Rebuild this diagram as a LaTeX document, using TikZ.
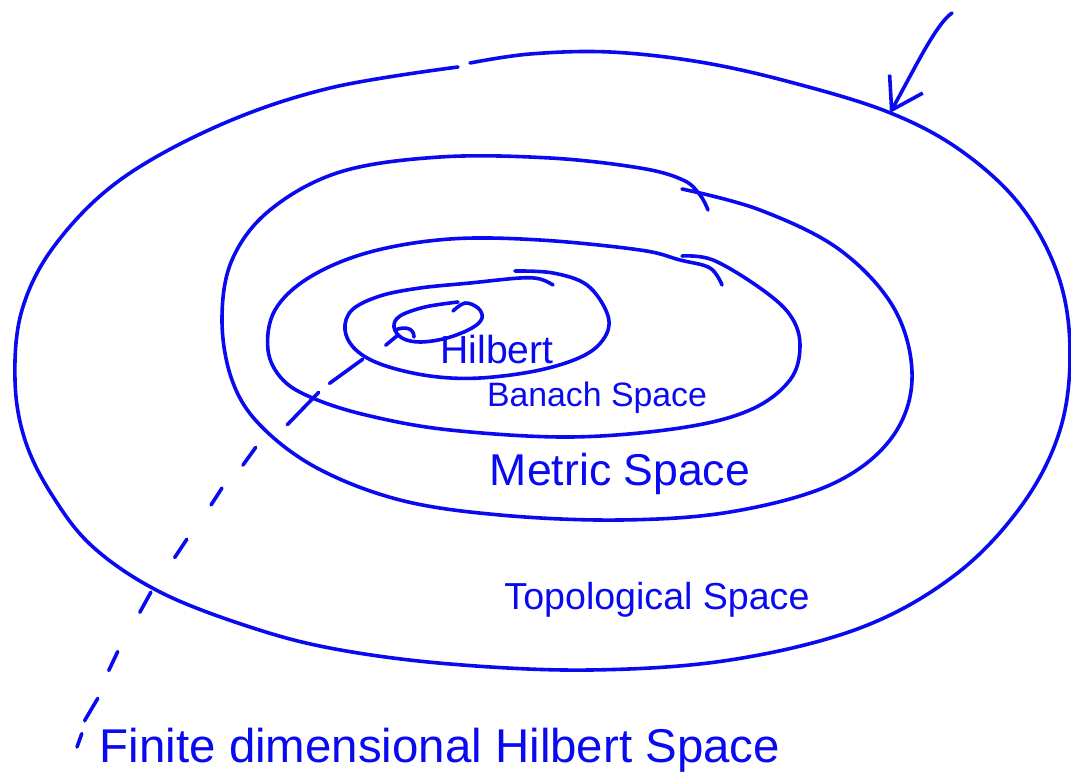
\documentclass[tikz,border=0pt]{standalone}
\usepackage{fontspec}
\setmainfont{Liberation Sans}
\usepackage{graphicx}
\usepackage{tikz}
\usetikzlibrary{arrows.meta}
\definecolor{ink}{HTML}{0A0AF0}
\newcommand{\hand}[2]{\resizebox{#1}{!}{#2}}

\begin{document}
\begin{tikzpicture}[
    x=1pt, y=-1pt,
    pen/.style={draw=ink, line width=3.6pt, line cap=round, line join=round},
    lab/.style={text=ink, inner sep=0pt, anchor=center},
    trail/.style={pen, dash pattern=on 16pt off 27pt on 41pt off 14pt on 45pt off 39pt on 22pt off 31pt on 20pt off 42pt on 22pt off 42pt on 23pt off 45pt on 21pt off 30pt on 26pt off 13pt on 15pt off 40pt},
    >={Straight Barb[length=30pt, width=38pt]},
  ]
  \useasboundingbox (0,0) rectangle (1071,778);
  % ---- topological space (outer)
  \draw[pen] plot[smooth, tension=0.6] coordinates {
    (470,63) (530,54) (610,52) (700,62) (790,82) (888,112) (960,150)
    (1020,205) (1058,275) (1070,350) (1060,430) (1022,505) (955,575)
    (860,628) (730,660) (590,670) (450,664) (335,649) (250,627) (160,592)
    (93,547) (52,495) (25,440) (15,380) (22,310) (55,245)
    (120,180) (220,125) (330,88) (458,67)};
  % ---- metric space
  \draw[pen] plot[smooth, tension=0.6] coordinates {
    (682,189) (760,210) (840,250) (895,310) (912,380) (890,440) (830,485)
    (730,512) (620,520) (500,515) (400,500) (317,468) (260,425) (232,380)
    (222,320) (232,260) (270,210) (340,172) (440,157) (550,158) (640,168)
    (683,180) (700,195) (708,210)};
  % ---- banach space
  \draw[pen] plot[smooth, tension=0.6] coordinates {
    (682,256) (713,260) (760,288) (790,315) (800,345) (790,380) (750,410)
    (680,428) (570,437) (450,430) (370,416) (315,399) (283,380)
    (268,350) (275,310) (310,277) (370,252) (450,239) (540,240) (640,250)
    (680,260) (710,268) (722,285)};
  % ---- hilbert space
  \draw[pen] plot[smooth, tension=0.6] coordinates {
    (515,271) (553,273) (587,285) (607,313) (606,335) (585,355) (540,370)
    (480,378) (430,376) (383,365) (356,350) (345,330) (352,310) (380,296)
    (420,288) (470,283) (520,278) (540,279) (553,285)};
  % ---- finite dimensional hilbert space
  \draw[pen] plot[smooth, tension=0.6] coordinates {
    (453,311) (465,303) (478,308) (482,318) (472,328) (447,338) (420,342)
    (402,338) (394,327) (400,316) (425,307) (458,302)};
  \draw[pen] (395,330) .. controls (405,326) and (414,328) .. (414,337);
  \coordinate (fdim) at (398,335);
  \coordinate (fdend) at (77,747);
  % ---- labels
  \node[lab] (hilbert) at (497,350) {\hand{113pt}{Hilbert}};
  \node[lab] (banach) at (597,398) {\hand{220pt}{Banach Space}};
  \node[lab] (metric) at (620,474) {\hand{260pt}{Metric Space}};
  \node[lab] (topo) at (657,600) {\hand{305pt}{Topological Space}};
  \node[lab] (fdlabel) at (440,750) {\hand{680pt}{Finite dimensional Hilbert Space}};
  % ---- dashed trail down to the label
  \draw[trail] (fdim) -- (386,345) -- (363,359) -- (330,383) -- (319,392)
    -- (288,424) -- (256,447) -- (243,465) -- (222,488) -- (211,505)
    -- (187,539) -- (175,557) -- (151,592) -- (140,612) -- (118,651)
    -- (109,670) -- (98,698) -- (85,720) -- (82,733) -- (fdend);
  % ---- pointer to the outer region
  \coordinate (ptail) at (952,13);
  \coordinate (ptip) at (890,113);
  \draw[pen, ->] (ptail) .. controls (936,24) and (915,68) .. (ptip);
\end{tikzpicture}
\end{document}
